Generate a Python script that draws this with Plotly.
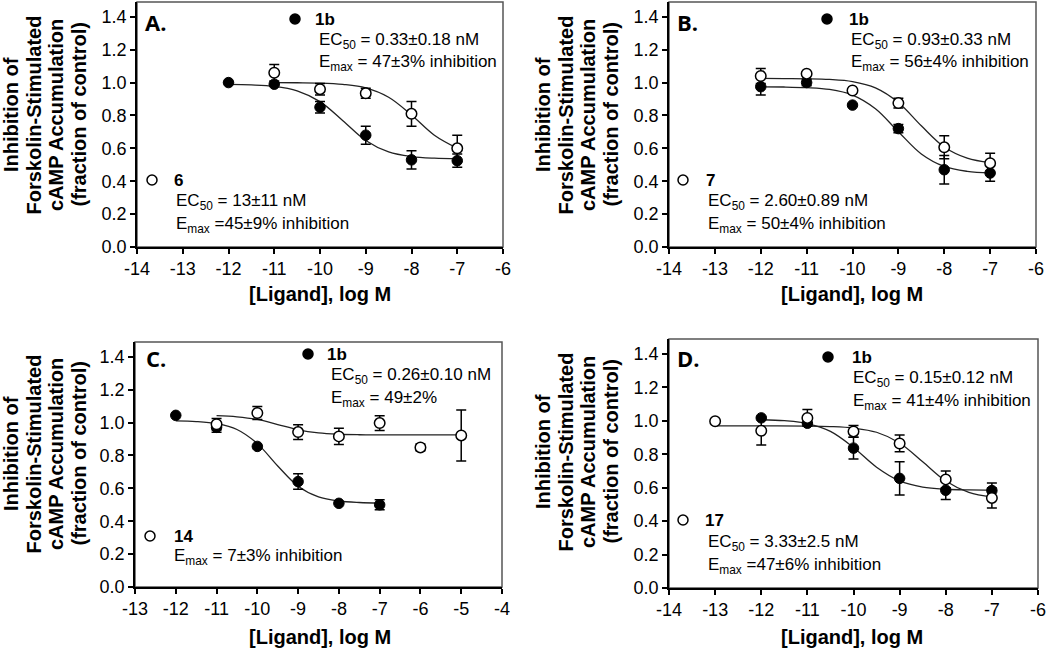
import plotly.graph_objects as go

W, H = 1050, 650

# ---------------- data ----------------
# Panel A: 1b (filled) and 6 (open)
A_x_1b = [-12, -11, -10, -9, -8, -7]
A_y_1b = [1.00, 0.99, 0.85, 0.68, 0.53, 0.525]
A_e_1b = [0.0, 0.0, 0.035, 0.055, 0.055, 0.04]
A_x_6 = [-11, -10, -9, -8, -7]
A_y_6 = [1.06, 0.96, 0.935, 0.81, 0.60]
A_e_6 = [0.05, 0.035, 0.03, 0.075, 0.08]
A_cx_1b = [-12, -11.5, -11, -10.5, -10, -9.5, -9, -8.5, -8, -7.5, -7]
A_cy_1b = [0.989, 0.986, 0.977, 0.950, 0.884, 0.768, 0.648, 0.578, 0.550, 0.540, 0.537]
A_cx_6 = [-11, -10.5, -10, -9.5, -9, -8.5, -8, -7.5, -7]
A_cy_6 = [1.000, 0.999, 0.997, 0.989, 0.968, 0.911, 0.803, 0.680, 0.601]

# Panel B: 1b (filled) and 7 (open)
B_x_1b = [-12, -11, -10, -9, -8, -7]
B_y_1b = [0.975, 1.00, 0.863, 0.72, 0.47, 0.45]
B_e_1b = [0.05, 0.02, 0.0, 0.025, 0.087, 0.05]
B_x_7 = [-12, -11, -10, -9, -8, -7]
B_y_7 = [1.04, 1.054, 0.952, 0.875, 0.606, 0.51]
B_e_7 = [0.045, 0.0, 0.0, 0.03, 0.07, 0.06]
B_cx_1b = [-12, -11.5, -11, -10.5, -10, -9.5, -9, -8.5, -8, -7.5, -7]
B_cy_1b = [0.974, 0.973, 0.969, 0.958, 0.924, 0.841, 0.701, 0.566, 0.490, 0.460, 0.450]
B_cx_7 = [-12, -11.5, -11, -10.5, -10, -9.5, -9, -8.5, -8, -7.5, -7]
B_cy_7 = [1.025, 1.024, 1.023, 1.019, 1.006, 0.968, 0.879, 0.737, 0.608, 0.540, 0.513]

# Panel C: 1b (filled) and 14 (open)
C_x_1b = [-12, -11, -10, -9, -8, -7]
C_y_1b = [1.044, 0.971, 0.855, 0.641, 0.509, 0.50]
C_e_1b = [0.0, 0.03, 0.0, 0.047, 0.0, 0.03]
C_x_14 = [-11, -10, -9, -8, -7, -6, -5]
C_y_14 = [0.99, 1.058, 0.942, 0.916, 0.997, 0.849, 0.922]
C_e_14 = [0.035, 0.04, 0.045, 0.05, 0.045, 0.02, 0.155]
C_cx_1b = [-12, -11.5, -11, -10.5, -10, -9.5, -9, -8.5, -8, -7.5, -7]
C_cy_1b = [1.010, 1.006, 0.993, 0.958, 0.872, 0.736, 0.613, 0.548, 0.523, 0.514, 0.511]
C_cx_14 = [-11, -10.5, -10, -9.5, -9, -8.5, -8, -7.5, -7, -6, -5]
C_cy_14 = [1.042, 1.035, 1.019, 0.988, 0.956, 0.937, 0.929, 0.926, 0.925, 0.925, 0.925]

# Panel D: 1b (filled) and 17 (open)
D_x_1b = [-12, -11, -10, -9, -8, -7]
D_y_1b = [1.018, 0.986, 0.837, 0.656, 0.585, 0.583]
D_e_1b = [0.0, 0.0, 0.065, 0.10, 0.055, 0.045]
D_x_17 = [-13, -12, -11, -10, -9, -8, -7]
D_y_17 = [0.998, 0.941, 1.018, 0.937, 0.865, 0.65, 0.539]
D_e_17 = [0.0, 0.085, 0.05, 0.035, 0.05, 0.05, 0.06]
D_cx_1b = [-12, -11.5, -11, -10.5, -10, -9.5, -9, -8.5, -8, -7.5, -7]
D_cy_1b = [1.007, 1.001, 0.984, 0.937, 0.841, 0.723, 0.641, 0.604, 0.591, 0.587, 0.586]
D_cx_17 = [-13, -12, -11, -10.5, -10, -9.5, -9, -8.5, -8, -7.5, -7]
D_cy_17 = [0.970, 0.970, 0.969, 0.966, 0.957, 0.932, 0.868, 0.755, 0.640, 0.572, 0.544]

xticks_AB = [-14, -13, -12, -11, -10, -9, -8, -7, -6]
xticks_C = [-13, -12, -11, -10, -9, -8, -7, -6, -5, -4]
xticks_D = [-14, -13, -12, -11, -10, -9, -8, -7, -6]
yticks = [0.0, 0.2, 0.4, 0.6, 0.8, 1.0, 1.2, 1.4]

ytitle_lines = ["Inhibition of", "Forskolin-Stimulated", "cAMP Accumulation", "(fraction of control)"]
xtitle = "[Ligand], log M"

FONT = "Liberation Sans, Arial, sans-serif"
LABEL_FONT = "Open Sans, Liberation Sans, sans-serif"


def px(x):
    return x / W


def py(y):
    return 1 - y / H


panels = [
    ("", (137, 503, 2, 247), xticks_AB),
    ("2", (669, 1036, 2, 247), xticks_AB),
    ("3", (135, 502, 342, 587), xticks_C),
    ("4", (669, 1038, 339, 588), xticks_D),
]

fig = go.Figure()

series = [
    ("", A_cx_1b, A_cy_1b, A_cx_6, A_cy_6, A_x_1b, A_y_1b, A_e_1b, A_x_6, A_y_6, A_e_6),
    ("2", B_cx_1b, B_cy_1b, B_cx_7, B_cy_7, B_x_1b, B_y_1b, B_e_1b, B_x_7, B_y_7, B_e_7),
    ("3", C_cx_1b, C_cy_1b, C_cx_14, C_cy_14, C_x_1b, C_y_1b, C_e_1b, C_x_14, C_y_14, C_e_14),
    ("4", D_cx_1b, D_cy_1b, D_cx_17, D_cy_17, D_x_1b, D_y_1b, D_e_1b, D_x_17, D_y_17, D_e_17),
]

for (s, cx1, cy1, cx2, cy2, x1, y1, e1, x2, y2, e2) in series:
    xa, ya = "x" + s, "y" + s
    for cx, cy in ((cx1, cy1), (cx2, cy2)):
        fig.add_trace(go.Scatter(x=cx, y=cy, mode="lines", xaxis=xa, yaxis=ya,
                                 line=dict(color="#222", width=1.3, shape="spline", smoothing=1.0),
                                 showlegend=False, hoverinfo="skip"))
    fig.add_trace(go.Scatter(x=x1, y=y1, mode="markers", xaxis=xa, yaxis=ya,
                             marker=dict(symbol="circle", size=10.5, color="black",
                                         line=dict(color="black", width=1)),
                             error_y=dict(type="data", array=e1, visible=True, color="black",
                                          thickness=1.5, width=5),
                             showlegend=False))
    fig.add_trace(go.Scatter(x=x2, y=y2, mode="markers", xaxis=xa, yaxis=ya,
                             marker=dict(symbol="circle", size=10.5, color="white",
                                         line=dict(color="black", width=1.5)),
                             error_y=dict(type="data", array=e2, visible=True, color="black",
                                          thickness=1.5, width=5),
                             showlegend=False))

layout = dict(width=W, height=H, margin=dict(l=0, r=0, t=0, b=0, autoexpand=False),
              paper_bgcolor="white", plot_bgcolor="white", showlegend=False,
              font=dict(family=FONT, size=16, color="black"))

shapes = []
for (s, (l, r, t, b), xt) in panels:
    layout["xaxis" + s] = dict(domain=[px(l), px(r)], range=[xt[0], xt[-1]], anchor="y" + s,
                               tickmode="array", tickvals=xt, ticktext=[str(v) for v in xt],
                               ticks="outside", ticklen=5, tickwidth=1.5, tickcolor="black",
                               showline=True, linecolor="black", linewidth=1.5,
                               showgrid=False, zeroline=False, automargin=False,
                               tickfont=dict(family=FONT, size=18, color="black"))
    layout["yaxis" + s] = dict(domain=[py(b), py(t)], range=[0, 1.49], anchor="x" + s,
                               tickmode="array", tickvals=yticks,
                               ticktext=["%.1f" % v for v in yticks],
                               ticks="outside", ticklen=5, tickwidth=1.5, tickcolor="black",
                               showline=True, linecolor="black", linewidth=1.5,
                               showgrid=False, zeroline=False, automargin=False,
                               tickfont=dict(family=FONT, size=18, color="black"))
    shapes.append(dict(type="rect", xref="paper", yref="paper",
                       x0=px(l), x1=px(r), y0=py(b), y1=py(t),
                       line=dict(color="#555", width=1.5), layer="below"))

layout["shapes"] = shapes
fig.update_layout(**layout)


def ann(text, x, y, size=17, bold=False, xanchor="left", angle=0, family=FONT):
    if bold:
        text = "<b>" + text + "</b>"
    fig.add_annotation(text=text, x=px(x), y=py(y), xref="paper", yref="paper",
                       xanchor=xanchor, yanchor="middle", showarrow=False,
                       textangle=angle, borderpad=0,
                       font=dict(family=family, size=size, color="black"))


def dot(x, y, filled):
    fig.add_shape(type="circle", xref="paper", yref="paper",
                  xsizemode="pixel", ysizemode="pixel",
                  xanchor=px(x), yanchor=py(y), x0=-5, x1=5, y0=-5, y1=5,
                  fillcolor="black" if filled else "white",
                  line=dict(color="black", width=1.5))


def ytitle(x0, yc):
    for i, line in enumerate(ytitle_lines):
        ann(line, x0 + 22.5 * i, yc, size=20, bold=True, xanchor="center", angle=-90)


# Panel A
ann("A.", 144, 22, size=22, bold=True, family=LABEL_FONT)
dot(295, 19, True)
ann("1b", 314, 19, bold=True)
ann("EC<sub>50</sub> = 0.33±0.18 nM", 318, 41)
ann("E<sub>max</sub> = 47±3% inhibition", 318, 63)
dot(152, 180, False)
ann("6", 173, 180, bold=True)
ann("EC<sub>50</sub> = 13±11 nM", 175, 202)
ann("E<sub>max</sub> =45±9% inhibition", 175, 225)
ytitle(11, 115)
ann(xtitle, 320, 294, size=20, bold=True, xanchor="center")

# Panel B
ann("B.", 676, 22, size=22, bold=True, family=LABEL_FONT)
dot(827, 19, True)
ann("1b", 848, 19, bold=True)
ann("EC<sub>50</sub> = 0.93±0.33 nM", 850, 41)
ann("E<sub>max</sub> = 56±4% inhibition", 850, 63)
dot(683, 180, False)
ann("7", 705, 180, bold=True)
ann("EC<sub>50</sub> = 2.60±0.89 nM", 707, 202)
ann("E<sub>max</sub> = 50±4% inhibition", 707, 225)
ytitle(543, 115)
ann(xtitle, 852, 294, size=20, bold=True, xanchor="center")

# Panel C
ann("C.", 145, 358, size=22, bold=True, family=LABEL_FONT)
dot(308, 354, True)
ann("1b", 326, 354, bold=True)
ann("EC<sub>50</sub> = 0.26±0.10 nM", 330, 376)
ann("E<sub>max</sub> = 49±2%", 330, 399)
dot(150, 536, False)
ann("14", 173, 536, bold=True)
ann("E<sub>max</sub> = 7±3% inhibition", 173, 557)
ytitle(11, 454)
ann(xtitle, 320, 637, size=20, bold=True, xanchor="center")

# Panel D
ann("D.", 676, 358, size=22, bold=True, family=LABEL_FONT)
dot(828, 357, True)
ann("1b", 851, 357, bold=True)
ann("EC<sub>50</sub> = 0.15±0.12 nM", 852, 379)
ann("E<sub>max</sub> = 41±4% inhibition", 852, 402)
dot(683, 520, False)
ann("17", 704, 520, bold=True)
ann("EC<sub>50</sub> = 3.33±2.5 nM", 707, 543)
ann("E<sub>max</sub> =47±6% inhibition", 707, 566)
ytitle(543, 452)
ann(xtitle, 852, 637, size=20, bold=True, xanchor="center")

# remove the browser's default 8px page margin so the figure sits at (0, 0)
fig.write_html("out.html", config={"displayModeBar": False},
               post_script="document.body.style.margin='0';document.body.style.overflow='hidden';")
